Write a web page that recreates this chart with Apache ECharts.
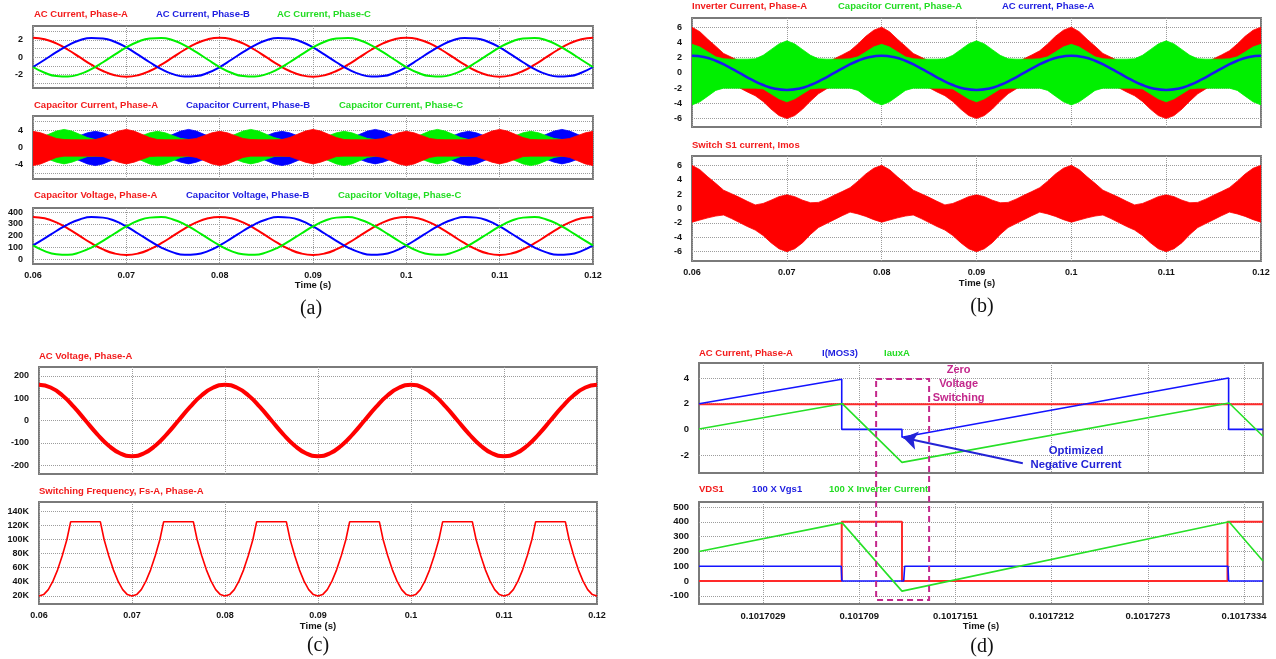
<!DOCTYPE html>
<html>
<head>
<meta charset="utf-8">
<script src="https://cdn.jsdelivr.net/npm/echarts@6/dist/echarts.min.js"></script>
<style>
html, body { margin: 0; padding: 0; background: #ffffff; }
#chart { width: 1276px; height: 659px; }
</style>
</head>
<body>
<div id="chart"></div>
<script>
// ---------- sample times (ms) ----------
const tSine = [60, 61.25, 62.5, 63.75, 65, 66.25, 67.5, 68.75, 70, 71.25, 72.5, 73.75, 75, 76.25, 77.5, 78.75,
  80, 81.25, 82.5, 83.75, 85, 86.25, 87.5, 88.75, 90, 91.25, 92.5, 93.75, 95, 96.25, 97.5, 98.75,
  100, 101.25, 102.5, 103.75, 105, 106.25, 107.5, 108.75, 110, 111.25, 112.5, 113.75, 115, 116.25, 117.5, 118.75, 120];

const tEnv = [60, 60.83, 61.67, 62.5, 63.33, 64.17, 65, 65.83, 66.67, 67.5, 68.33, 69.17,
  70, 70.83, 71.67, 72.5, 73.33, 74.17, 75, 75.83, 76.67, 77.5, 78.33, 79.17,
  80, 80.83, 81.67, 82.5, 83.33, 84.17, 85, 85.83, 86.67, 87.5, 88.33, 89.17,
  90, 90.83, 91.67, 92.5, 93.33, 94.17, 95, 95.83, 96.67, 97.5, 98.33, 99.17,
  100, 100.83, 101.67, 102.5, 103.33, 104.17, 105, 105.83, 106.67, 107.5, 108.33, 109.17,
  110, 110.83, 111.67, 112.5, 113.33, 114.17, 115, 115.83, 116.67, 117.5, 118.33, 119.17, 120];

const tFs = [60, 60.5, 61, 61.5, 62, 62.5, 63, 63.4, 66.6, 67, 67.5, 68, 68.5, 69, 69.5,
  70, 70.5, 71, 71.5, 72, 72.5, 73, 73.4, 76.6, 77, 77.5, 78, 78.5, 79, 79.5,
  80, 80.5, 81, 81.5, 82, 82.5, 83, 83.4, 86.6, 87, 87.5, 88, 88.5, 89, 89.5,
  90, 90.5, 91, 91.5, 92, 92.5, 93, 93.4, 96.6, 97, 97.5, 98, 98.5, 99, 99.5,
  100, 100.5, 101, 101.5, 102, 102.5, 103, 103.4, 106.6, 107, 107.5, 108, 108.5, 109, 109.5,
  110, 110.5, 111, 111.5, 112, 112.5, 113, 113.4, 116.6, 117, 117.5, 118, 118.5, 119, 119.5, 120];

// time axis ticks (ms) and their labels (s)
const msTicks = [60, 70, 80, 90, 100, 110, 120];
const msTickLabels = ['0.06', '0.07', '0.08', '0.09', '0.1', '0.11', '0.12'];

// ---------- (a) AC currents, A ----------
const acCurA = [2.25, 2.08, 1.59, 0.86, 0, -0.86, -1.59, -2.08, -2.25, -2.08, -1.59, -0.86, 0, 0.86, 1.59, 2.08,
  2.25, 2.08, 1.59, 0.86, 0, -0.86, -1.59, -2.08, -2.25, -2.08, -1.59, -0.86, 0, 0.86, 1.59, 2.08,
  2.25, 2.08, 1.59, 0.86, 0, -0.86, -1.59, -2.08, -2.25, -2.08, -1.59, -0.86, 0, 0.86, 1.59, 2.08, 2.25];
const acCurB = [-1.13, -0.29, 0.58, 1.37, 1.95, 2.23, 2.17, 1.79, 1.13, 0.29, -0.58, -1.37, -1.95, -2.23, -2.17, -1.79,
  -1.13, -0.29, 0.58, 1.37, 1.95, 2.23, 2.17, 1.79, 1.13, 0.29, -0.58, -1.37, -1.95, -2.23, -2.17, -1.79,
  -1.13, -0.29, 0.58, 1.37, 1.95, 2.23, 2.17, 1.79, 1.13, 0.29, -0.58, -1.37, -1.95, -2.23, -2.17, -1.79, -1.13];
const acCurC = [-1.13, -1.79, -2.17, -2.23, -1.95, -1.37, -0.58, 0.29, 1.13, 1.79, 2.17, 2.23, 1.95, 1.37, 0.58, -0.29,
  -1.13, -1.79, -2.17, -2.23, -1.95, -1.37, -0.58, 0.29, 1.13, 1.79, 2.17, 2.23, 1.95, 1.37, 0.58, -0.29,
  -1.13, -1.79, -2.17, -2.23, -1.95, -1.37, -0.58, 0.29, 1.13, 1.79, 2.17, 2.23, 1.95, 1.37, 0.58, -0.29, -1.13];

// ---------- (a) capacitor current envelopes, A ----------
const capCurAUp = [3.75, 3.4, 2.75, 2.1, 1.85, 1.8, 1.8, 1.8, 1.85, 2.3, 3.05, 3.8,
  4.2, 3.8, 3.05, 2.3, 1.85, 1.8, 1.8, 1.8, 1.85, 2.1, 2.75, 3.4,
  3.75, 3.4, 2.75, 2.1, 1.85, 1.8, 1.8, 1.8, 1.85, 2.3, 3.05, 3.8,
  4.2, 3.8, 3.05, 2.3, 1.85, 1.8, 1.8, 1.8, 1.85, 2.1, 2.75, 3.4,
  3.75, 3.4, 2.75, 2.1, 1.85, 1.8, 1.8, 1.8, 1.85, 2.3, 3.05, 3.8,
  4.2, 3.8, 3.05, 2.3, 1.85, 1.8, 1.8, 1.8, 1.85, 2.1, 2.75, 3.4, 3.75];
const capCurALo = [-4.2, -3.8, -3.05, -2.3, -2, -2, -2, -2, -2, -2.1, -2.75, -3.4,
  -3.8, -3.4, -2.75, -2.1, -2, -2, -2, -2, -2, -2.3, -3.05, -3.8,
  -4.2, -3.8, -3.05, -2.3, -2, -2, -2, -2, -2, -2.1, -2.75, -3.4,
  -3.8, -3.4, -2.75, -2.1, -2, -2, -2, -2, -2, -2.3, -3.05, -3.8,
  -4.2, -3.8, -3.05, -2.3, -2, -2, -2, -2, -2, -2.1, -2.75, -3.4,
  -3.8, -3.4, -2.75, -2.1, -2, -2, -2, -2, -2, -2.3, -3.05, -3.8, -4.2];
const capCurBUp = [1.85, 1.8, 1.8, 1.8, 1.85, 2.1, 2.75, 3.4, 3.75, 3.4, 2.75, 2.1,
  1.85, 1.8, 1.8, 1.8, 1.85, 2.3, 3.05, 3.8, 4.2, 3.8, 3.05, 2.3,
  1.85, 1.8, 1.8, 1.8, 1.85, 2.1, 2.75, 3.4, 3.75, 3.4, 2.75, 2.1,
  1.85, 1.8, 1.8, 1.8, 1.85, 2.3, 3.05, 3.8, 4.2, 3.8, 3.05, 2.3,
  1.85, 1.8, 1.8, 1.8, 1.85, 2.1, 2.75, 3.4, 3.75, 3.4, 2.75, 2.1,
  1.85, 1.8, 1.8, 1.8, 1.85, 2.3, 3.05, 3.8, 4.2, 3.8, 3.05, 2.3, 1.85];
const capCurBLo = [-2, -2, -2, -2, -2, -2.3, -3.05, -3.8, -4.2, -3.8, -3.05, -2.3,
  -2, -2, -2, -2, -2, -2.1, -2.75, -3.4, -3.8, -3.4, -2.75, -2.1,
  -2, -2, -2, -2, -2, -2.3, -3.05, -3.8, -4.2, -3.8, -3.05, -2.3,
  -2, -2, -2, -2, -2, -2.1, -2.75, -3.4, -3.8, -3.4, -2.75, -2.1,
  -2, -2, -2, -2, -2, -2.3, -3.05, -3.8, -4.2, -3.8, -3.05, -2.3,
  -2, -2, -2, -2, -2, -2.1, -2.75, -3.4, -3.8, -3.4, -2.75, -2.1, -2];
const capCurCUp = [1.85, 2.3, 3.05, 3.8, 4.2, 3.8, 3.05, 2.3, 1.85, 1.8, 1.8, 1.8,
  1.85, 2.1, 2.75, 3.4, 3.75, 3.4, 2.75, 2.1, 1.85, 1.8, 1.8, 1.8,
  1.85, 2.3, 3.05, 3.8, 4.2, 3.8, 3.05, 2.3, 1.85, 1.8, 1.8, 1.8,
  1.85, 2.1, 2.75, 3.4, 3.75, 3.4, 2.75, 2.1, 1.85, 1.8, 1.8, 1.8,
  1.85, 2.3, 3.05, 3.8, 4.2, 3.8, 3.05, 2.3, 1.85, 1.8, 1.8, 1.8,
  1.85, 2.1, 2.75, 3.4, 3.75, 3.4, 2.75, 2.1, 1.85, 1.8, 1.8, 1.8, 1.85];
const capCurCLo = [-2, -2.1, -2.75, -3.4, -3.8, -3.4, -2.75, -2.1, -2, -2, -2, -2,
  -2, -2.3, -3.05, -3.8, -4.2, -3.8, -3.05, -2.3, -2, -2, -2, -2,
  -2, -2.1, -2.75, -3.4, -3.8, -3.4, -2.75, -2.1, -2, -2, -2, -2,
  -2, -2.3, -3.05, -3.8, -4.2, -3.8, -3.05, -2.3, -2, -2, -2, -2,
  -2, -2.1, -2.75, -3.4, -3.8, -3.4, -2.75, -2.1, -2, -2, -2, -2,
  -2, -2.3, -3.05, -3.8, -4.2, -3.8, -3.05, -2.3, -2, -2, -2, -2, -2];

// ---------- (a) capacitor voltages, V ----------
const capVoltA = [359, 347, 312, 259, 197, 135, 82, 47, 35, 47, 82, 135, 197, 259, 312, 347,
  359, 347, 312, 259, 197, 135, 82, 47, 35, 47, 82, 135, 197, 259, 312, 347,
  359, 347, 312, 259, 197, 135, 82, 47, 35, 47, 82, 135, 197, 259, 312, 347, 359];
const capVoltB = [116, 176, 239, 296, 337, 358, 353, 326, 278, 218, 155, 98, 57, 36, 41, 68,
  116, 176, 239, 296, 337, 358, 353, 326, 278, 218, 155, 98, 57, 36, 41, 68,
  116, 176, 239, 296, 337, 358, 353, 326, 278, 218, 155, 98, 57, 36, 41, 68, 116];
const capVoltC = [116, 68, 41, 36, 57, 98, 155, 218, 278, 326, 353, 358, 337, 296, 239, 176,
  116, 68, 41, 36, 57, 98, 155, 218, 278, 326, 353, 358, 337, 296, 239, 176,
  116, 68, 41, 36, 57, 98, 155, 218, 278, 326, 353, 358, 337, 296, 239, 176, 116];

// ---------- (b) inverter current and switch S1 current envelopes, A ----------
const invCurUp = [6, 5.4, 4.4, 3.5, 2.55, 2.05, 1.55, 1, 0.5, 0.7, 1.15, 1.65,
  1.9, 1.65, 1.15, 0.75, 0.8, 1.3, 1.85, 2.35, 2.9, 3.8, 4.8, 5.6,
  6, 5.4, 4.4, 3.5, 2.55, 2.05, 1.55, 1, 0.5, 0.7, 1.15, 1.65,
  1.9, 1.65, 1.15, 0.75, 0.8, 1.3, 1.85, 2.35, 2.9, 3.8, 4.8, 5.6,
  6, 5.4, 4.4, 3.5, 2.55, 2.05, 1.55, 1, 0.5, 0.7, 1.15, 1.65,
  1.9, 1.65, 1.15, 0.75, 0.8, 1.3, 1.85, 2.35, 2.9, 3.8, 4.8, 5.6, 6];
const invCurLo = [-1.9, -1.6, -1.3, -1.05, -0.9, -1.4, -1.95, -2.5, -3, -3.75, -4.75, -5.6,
  -6, -5.6, -4.75, -3.7, -2.75, -2.1, -1.55, -1, -0.5, -0.75, -1.1, -1.55,
  -1.9, -1.6, -1.3, -1.05, -0.9, -1.4, -1.95, -2.5, -3, -3.75, -4.75, -5.6,
  -6, -5.6, -4.75, -3.7, -2.75, -2.1, -1.55, -1, -0.5, -0.75, -1.1, -1.55,
  -1.9, -1.6, -1.3, -1.05, -0.9, -1.4, -1.95, -2.5, -3, -3.75, -4.75, -5.6,
  -6, -5.6, -4.75, -3.7, -2.75, -2.1, -1.55, -1, -0.5, -0.75, -1.1, -1.55, -1.9];
const swCurUp = [6, 5.4, 4.4, 3.5, 2.55, 2.05, 1.55, 1, 0.5, 0.7, 1.15, 1.65,
  1.9, 1.65, 1.15, 0.8, 0.85, 1.3, 1.85, 2.35, 2.9, 3.8, 4.8, 5.6,
  6, 5.4, 4.4, 3.5, 2.55, 2.05, 1.55, 1, 0.5, 0.7, 1.15, 1.65,
  1.9, 1.65, 1.15, 0.8, 0.85, 1.3, 1.85, 2.35, 2.9, 3.8, 4.8, 5.6,
  6, 5.4, 4.4, 3.5, 2.55, 2.05, 1.55, 1, 0.5, 0.7, 1.15, 1.65,
  1.9, 1.65, 1.15, 0.8, 0.85, 1.3, 1.85, 2.35, 2.9, 3.8, 4.8, 5.6, 6];
const swCurLo = [-1.9, -1.6, -1.3, -1.05, -0.9, -1.4, -1.95, -2.5, -3, -3.75, -4.75, -5.6,
  -6, -5.6, -4.75, -3.6, -2.65, -2.1, -1.55, -1, -0.5, -0.75, -1.1, -1.55,
  -1.9, -1.6, -1.3, -1.05, -0.9, -1.4, -1.95, -2.5, -3, -3.75, -4.75, -5.6,
  -6, -5.6, -4.75, -3.6, -2.65, -2.1, -1.55, -1, -0.5, -0.75, -1.1, -1.55,
  -1.9, -1.6, -1.3, -1.05, -0.9, -1.4, -1.95, -2.5, -3, -3.75, -4.75, -5.6,
  -6, -5.6, -4.75, -3.6, -2.65, -2.1, -1.55, -1, -0.5, -0.75, -1.1, -1.55, -1.9];

// ---------- (c) AC voltage (V) and switching frequency (kHz) ----------
const acVoltA = [160, 148, 113, 61, 0, -61, -113, -148, -160, -148, -113, -61, 0, 61, 113, 148,
  160, 148, 113, 61, 0, -61, -113, -148, -160, -148, -113, -61, 0, 61, 113, 148,
  160, 148, 113, 61, 0, -61, -113, -148, -160, -148, -113, -61, 0, 61, 113, 148, 160];
const fsKHz = [20, 22, 29, 41, 57, 77, 100, 125, 125, 100, 77, 57, 41, 29, 22,
  20, 22, 29, 41, 57, 77, 100, 125, 125, 100, 77, 57, 41, 29, 22,
  20, 22, 29, 41, 57, 77, 100, 125, 125, 100, 77, 57, 41, 29, 22,
  20, 22, 29, 41, 57, 77, 100, 125, 125, 100, 77, 57, 41, 29, 22,
  20, 22, 29, 41, 57, 77, 100, 125, 125, 100, 77, 57, 41, 29, 22,
  20, 22, 29, 41, 57, 77, 100, 125, 125, 100, 77, 57, 41, 29, 22, 20];
const fsTicks = [20, 40, 60, 80, 100, 120, 140];
const fsTickLabels = ['20K', '40K', '60K', '80K', '100K', '120K', '140K'];

// ---------- (d) one switching cycle, time in µs after 0.1017 s ----------
const dTicks = [2.9, 9.0, 15.1, 21.2, 27.3, 33.4];
const dTickLabels = ['0.1017029', '0.101709', '0.1017151', '0.1017212', '0.1017273', '0.1017334'];
const dAcCurA = [[-1.16, 1.95], [34.6, 1.95]];
const dIMos3 = [[-1.16, 2.0], [7.89, 3.9], [7.89, 0], [11.71, 0], [11.71, -0.62], [32.42, 4.0], [32.42, 0], [34.6, 0]];
const dIauxA = [[-1.16, 0.03], [7.92, 2.0], [11.71, -2.57], [32.45, 2.05], [34.6, -0.54]];
const dVds1 = [[-1.16, 0], [7.89, 0], [7.89, 400], [11.71, 400], [11.71, 0], [32.35, 0], [32.35, 400], [34.6, 400]];
const dVgs1x100 = [[-1.16, 100], [7.86, 100], [7.9, 0], [11.82, 0], [11.88, 100], [32.38, 100], [32.42, 0], [34.6, 0]];
const dInvCurx100 = [[-1.16, 200], [7.92, 393], [11.71, -68], [32.45, 400], [34.6, 136]];

// annotation anchors in (d) data units
const zvsBox = { x0: 10.07, x1: 13.43, yTopD1: 3.92, yBottomD2: -128 };
const zvsLines = [['Zero', 4.63], ['Voltage', 3.53], ['Switching', 2.43]];
const zvsTextX = 15.3;
const negArrowTail = [19.37, -2.64];
const negArrowTip = [11.8, -0.65];
const negTextLines = [['Optimized', 22.75, -1.69], ['Negative Current', 22.75, -2.77]];

// ---------- styling ----------
const FONT = '"Liberation Sans", Arial, Helvetica, sans-serif';
const RED = '#ff0000', BLUE = '#0000ff', GREEN = '#00f000';
const T_RED = '#f21b1b', T_BLUE = '#1d1de0', T_GREEN = '#22dc22';
const MAGENTA = '#c3288c';
const GRID_LINE = { show: true, lineStyle: { color: '#9c9c9c', type: 'dotted', width: 1 } };

const gridBoxes = [
  { left: 33, top: 26, width: 560, height: 62 },    // a1
  { left: 33, top: 116, width: 560, height: 63 },   // a2
  { left: 33, top: 208, width: 560, height: 56 },   // a3
  { left: 692, top: 18, width: 569, height: 109 },  // b1
  { left: 692, top: 156, width: 569, height: 105 }, // b2
  { left: 39, top: 367, width: 558, height: 107 },  // c1
  { left: 39, top: 502, width: 558, height: 102 },  // c2
  { left: 699, top: 363, width: 564, height: 110 }, // d1
  { left: 699, top: 502, width: 564, height: 102 }  // d2
];

function nearestLabel(ticks, labels) {
  return function (v) {
    let best = 0;
    for (let i = 1; i < ticks.length; i++) {
      if (Math.abs(ticks[i] - v) < Math.abs(ticks[best] - v)) best = i;
    }
    return labels[best];
  };
}

function xAxisFor(gi, min, max, ticks, labels, showLabels, fontSize) {
  return {
    type: 'value', gridIndex: gi, min: min, max: max,
    axisLine: { show: false },
    axisTick: { show: false, customValues: ticks },
    splitLine: GRID_LINE,
    axisLabel: {
      show: showLabels, customValues: ticks, formatter: nearestLabel(ticks, labels),
      color: '#141414', fontFamily: FONT, fontWeight: 'bold', fontSize: fontSize, margin: 7
    }
  };
}

function yAxisFor(gi, min, max, gridTicks, labelTicks, labelTexts, fontSize) {
  const lab = {
    customValues: labelTicks, color: '#141414', fontFamily: FONT,
    fontWeight: 'bold', fontSize: fontSize || 9, margin: 10
  };
  if (labelTexts) lab.formatter = nearestLabel(labelTicks, labelTexts);
  return {
    type: 'value', gridIndex: gi, min: min, max: max,
    axisLine: { show: false },
    axisTick: { show: false, customValues: gridTicks },
    splitLine: GRID_LINE,
    axisLabel: lab
  };
}

function lineSeries(gi, xs, ys, color, width, smooth) {
  return {
    type: 'line', xAxisIndex: gi, yAxisIndex: gi,
    data: xs.map((x, i) => [x, ys[i]]),
    symbol: 'none', smooth: smooth ? 0.5 : false,
    lineStyle: { color: color, width: width },
    silent: true, animation: false, emphasis: { disabled: true }
  };
}

function pathSeries(gi, pts, color, width) {
  return {
    type: 'line', xAxisIndex: gi, yAxisIndex: gi, data: pts,
    symbol: 'none', lineStyle: { color: color, width: width },
    silent: true, animation: false, emphasis: { disabled: true }
  };
}

// filled ripple envelope: one polygon running along the upper edge and back along the lower edge
function bandSeries(gi, xs, lo, hi, color) {
  return {
    type: 'custom', xAxisIndex: gi, yAxisIndex: gi, clip: true,
    data: xs.map((x, i) => [x, lo[i], hi[i]]),
    encode: { x: 0, y: [1, 2] },
    renderItem: function (params, api) {
      if (params.dataIndexInside !== 0) return null;
      const upper = [], lower = [];
      for (let i = 0; i < xs.length; i++) {
        upper.push(api.coord([xs[i], hi[i]]));
        lower.push(api.coord([xs[i], lo[i]]));
      }
      return {
        type: 'polygon',
        shape: { points: upper.concat(lower.reverse()) },
        style: { fill: color, stroke: color, lineWidth: 0.8 }
      };
    },
    silent: true, animation: false
  };
}

const grids = gridBoxes.map(g => Object.assign({
  show: true, borderColor: '#7a7a7a', borderWidth: 2,
  backgroundColor: 'transparent', containLabel: false, outerBoundsMode: 'none'
}, g));

const xAxes = [
  xAxisFor(0, 60, 120, msTicks, msTickLabels, false, 9),
  xAxisFor(1, 60, 120, msTicks, msTickLabels, false, 9),
  xAxisFor(2, 60, 120, msTicks, msTickLabels, true, 9),
  xAxisFor(3, 60, 120, msTicks, msTickLabels, false, 9),
  xAxisFor(4, 60, 120, msTicks, msTickLabels, true, 9),
  xAxisFor(5, 60, 120, msTicks, msTickLabels, false, 9),
  xAxisFor(6, 60, 120, msTicks, msTickLabels, true, 9),
  xAxisFor(7, -1.16, 34.6, dTicks, dTickLabels, false, 9.5),
  xAxisFor(8, -1.16, 34.6, dTicks, dTickLabels, true, 9.5)
];

const yAxes = [
  yAxisFor(0, -3.55, 3.6, [-3, -2, -1, 0, 1, 2, 3], [-2, 0, 2]),
  yAxisFor(1, -7.3, 7.3, [-6, -4, -2, 0, 2, 4, 6], [-4, 0, 4]),
  yAxisFor(2, -42, 435, [0, 100, 200, 300, 400], [0, 100, 200, 300, 400]),
  yAxisFor(3, -7.1, 7.2, [-6, -4, -2, 0, 2, 4, 6], [-6, -4, -2, 0, 2, 4, 6]),
  yAxisFor(4, -7.3, 7.3, [-6, -4, -2, 0, 2, 4, 6], [-6, -4, -2, 0, 2, 4, 6]),
  yAxisFor(5, -240, 240, [-200, -100, 0, 100, 200], [-200, -100, 0, 100, 200]),
  yAxisFor(6, 8.7, 153, fsTicks, fsTicks, fsTickLabels),
  yAxisFor(7, -3.4, 5.17, [-2, 0, 2, 4], [-2, 0, 2, 4], null, 9.5),
  yAxisFor(8, -155, 534, [-100, 0, 100, 200, 300, 400, 500], [-100, 0, 100, 200, 300, 400, 500], null, 9.5)
];

const iMosSeries = pathSeries(7, dIMos3, '#1414ff', 1.6);
iMosSeries.markLine = {
  silent: true, animation: false, symbol: ['none', 'arrow'], symbolSize: 14,
  lineStyle: { color: '#2323d6', width: 2, type: 'solid' },
  label: { show: false }, emphasis: { disabled: true },
  data: [[{ coord: negArrowTail }, { coord: negArrowTip }]]
};

const series = [].concat(
  // (a)
  lineSeries(0, tSine, acCurA, RED, 2, true),
  lineSeries(0, tSine, acCurB, BLUE, 2, true),
  lineSeries(0, tSine, acCurC, GREEN, 2, true),
  bandSeries(1, tEnv, capCurBLo, capCurBUp, BLUE),
  bandSeries(1, tEnv, capCurCLo, capCurCUp, GREEN),
  bandSeries(1, tEnv, capCurALo, capCurAUp, RED),
  lineSeries(2, tSine, capVoltA, RED, 2, true),
  lineSeries(2, tSine, capVoltB, BLUE, 2, true),
  lineSeries(2, tSine, capVoltC, GREEN, 2, true),
  // (b)
  bandSeries(3, tEnv, invCurLo, invCurUp, RED),
  bandSeries(3, tEnv, capCurALo, capCurAUp, GREEN),
  lineSeries(3, tSine, acCurA, '#1a1aee', 2.5, true),
  bandSeries(4, tEnv, swCurLo, swCurUp, RED),
  // (c)
  lineSeries(5, tSine, acVoltA, RED, 4, true),
  lineSeries(6, tFs, fsKHz, RED, 1.6, false),
  // (d)
  pathSeries(7, dAcCurA, '#ff2a2a', 2),
  iMosSeries,
  pathSeries(7, dIauxA, '#27e027', 1.6),
  pathSeries(8, dVds1, '#ff2a2a', 2),
  pathSeries(8, dVgs1x100, '#1414ff', 1.6),
  pathSeries(8, dInvCurx100, '#27e027', 1.6)
);

// ---------- text ----------
function txt(text, x, y, color, font, align) {
  return {
    type: 'text', x: x, y: y, silent: true, z: 100,
    style: {
      text: text, fill: color, font: font,
      align: align || 'left', verticalAlign: 'middle',
      textAlign: align || 'left', textVerticalAlign: 'middle'
    }
  };
}
const TITLE_FONT = 'bold 9.5px ' + FONT;
const AXIS_NAME_FONT = 'bold 9.5px ' + FONT;
const PANEL_FONT = '20px "Liberation Serif", "Times New Roman", serif';

const panelTitles = [
  ['AC Current, Phase-A', 34, 14, T_RED], ['AC Current, Phase-B', 156, 14, T_BLUE], ['AC Current, Phase-C', 277, 14, T_GREEN],
  ['Capacitor Current, Phase-A', 34, 105, T_RED], ['Capacitor Current, Phase-B', 186, 105, T_BLUE], ['Capacitor Current, Phase-C', 339, 105, T_GREEN],
  ['Capacitor Voltage, Phase-A', 34, 195, T_RED], ['Capacitor Voltage, Phase-B', 186, 195, T_BLUE], ['Capacitor Voltage, Phase-C', 338, 195, T_GREEN],
  ['Inverter Current, Phase-A', 692, 6, T_RED], ['Capacitor Current, Phase-A', 838, 6, T_GREEN], ['AC current, Phase-A', 1002, 6, T_BLUE],
  ['Switch S1 current, Imos', 692, 145, T_RED],
  ['AC Voltage, Phase-A', 39, 356, T_RED],
  ['Switching Frequency, Fs-A, Phase-A', 39, 491, T_RED],
  ['AC Current, Phase-A', 699, 353, T_RED], ['I(MOS3)', 822, 353, T_BLUE], ['IauxA', 884, 353, T_GREEN],
  ['VDS1', 699, 489, T_RED], ['100 X Vgs1', 752, 489, T_BLUE], ['100 X Inverter Current', 829, 489, T_GREEN]
];
const timeNames = [[313, 285], [977, 283], [318, 626], [981, 626]];
const panelLetters = [['(a)', 311, 309], ['(b)', 982, 307], ['(c)', 318, 646], ['(d)', 982, 647]];

const chart = echarts.init(document.getElementById('chart'), null, { renderer: 'canvas' });
chart.setOption({
  backgroundColor: '#ffffff',
  animation: false,
  grid: grids,
  xAxis: xAxes,
  yAxis: yAxes,
  series: series
});

// annotations placed through the (d) axes
const toPx = (gi, pt) => chart.convertToPixel({ gridIndex: gi }, pt);
const boxTL = toPx(7, [zvsBox.x0, zvsBox.yTopD1]);
const boxBR = toPx(8, [zvsBox.x1, zvsBox.yBottomD2]);

const graphics = [];
panelTitles.forEach(t => graphics.push(txt(t[0], t[1], t[2], t[3], TITLE_FONT)));
timeNames.forEach(p => graphics.push(txt('Time (s)', p[0], p[1], '#141414', AXIS_NAME_FONT, 'center')));
panelLetters.forEach(p => graphics.push(txt(p[0], p[1], p[2], '#111111', PANEL_FONT, 'center')));
graphics.push({
  type: 'rect', silent: true, z: 90,
  shape: { x: boxTL[0], y: boxTL[1], width: boxBR[0] - boxTL[0], height: boxBR[1] - boxTL[1] },
  style: { fill: 'none', stroke: MAGENTA, lineWidth: 2, lineDash: [6, 4] }
});
zvsLines.forEach(l => {
  const p = toPx(7, [zvsTextX, l[1]]);
  graphics.push(txt(l[0], p[0], p[1], MAGENTA, 'bold 11px ' + FONT, 'center'));
});
negTextLines.forEach(l => {
  const p = toPx(7, [l[1], l[2]]);
  graphics.push(txt(l[0], p[0], p[1], '#2323d6', 'bold 11.3px ' + FONT, 'center'));
});
chart.setOption({ graphic: graphics });
</script>
</body>
</html>
